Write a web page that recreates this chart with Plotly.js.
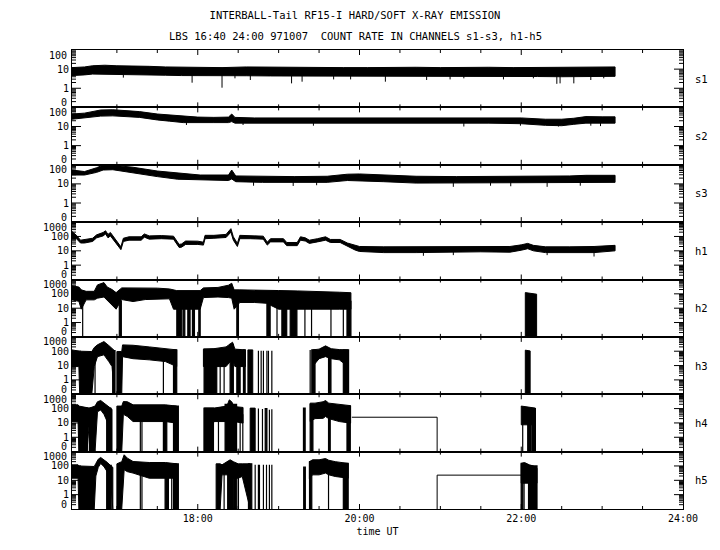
<!DOCTYPE html>
<html><head><meta charset="utf-8">
<script src="https://cdn.plot.ly/plotly-3.0.1.min.js"></script>
<style>html,body{margin:0;padding:0;background:#fff}</style>
</head><body>
<div id="chart" style="width:720px;height:550px"></div>
<script>
// ---------- data (time in decimal hours UT, values = count rate) ----------
const channels = ['s1','s2','s3','h1','h2','h3','h4','h5'];
const topLabels = ['100','100','100','1000','1000','1000','1000','1000'];
const xTickVals = [18, 20, 22, 24];
const xTickText = ['18:00','20:00','22:00','24:00'];
const xMinorStep = 0.5;   // half-hour ticks

// s1 envelope
const s1_t  = [16.445,16.6,16.7,16.85,17.0,17.2,17.4,17.6,17.8,18.0,18.3,18.6,18.9,19.2,19.5,19.8,20.1,20.4,20.7,21.0,21.3,21.6,21.9,22.2,22.5,22.8,23.0,23.16];
const s1_hi = [12,13,15,16,15,15,14,13,12.5,12,12,13,12.5,12,12.5,12,12,12.5,12.5,12,12.5,12.5,12,12,12,12,12.5,13];
const s1_lo = [4.6,5,5.5,5.5,5.4,5.2,5,4.8,4.6,4.5,4.4,4.5,4.4,4.3,4.4,4.3,4.3,4.3,4.3,4.2,4.2,4.2,4.1,4.1,4.0,4.0,4.1,4.2];
const s1_spkT = [17.08,17.93,18.30,18.46,18.65,19.16,19.29,19.68,19.89,20.32,20.83,21.12,21.29,21.78,22.15,22.44,22.48,22.65,22.86,23.02];
const s1_spkV = [3.6,1.95,1.07,3.3,2.7,1.8,2.2,2.9,2.9,2.2,2.7,2.9,3.3,2.9,3.3,1.7,1.8,1.8,2.7,3.3];
const s1_base = 6;

// s2 envelope
const s2_t  = [16.445,16.6,16.8,16.95,17.1,17.28,17.5,17.65,17.82,18.0,18.2,18.38,18.42,18.46,18.7,19.0,19.3,19.6,20.0,20.4,20.8,21.2,21.6,22.0,22.3,22.5,22.65,22.8,23.0,23.16];
const s2_hi = [45,50,73,75,68,60,45,40,33,31,30,31,45,30,28,28,28,28,29,30,30,30,29,28,24,24,27,33,32,32];
const s2_lo = [24,27,35,36,33,30,22,19,16,16,16,16,18,15,15,14.5,15,14.5,15,15,15,15,15,14,11.5,11,13,15,15,15];
const s2_spkT = [17.86,18.56,19.43,21.29,21.99,22.46,22.86,22.98];
const s2_spkV = [12,12,11,10,11,10,11,10.5];
const s2_base = 20;

// s3 envelope
const s3_t  = [16.445,16.6,16.75,16.83,16.95,17.2,17.5,17.75,18.03,18.38,18.42,18.47,18.8,19.2,19.6,19.85,20.0,20.3,20.7,21.2,21.7,22.2,22.6,22.8,23.16];
const s3_hi = [53,44,70,97,95,74,47,36,29,29,53,26,25,24,25,32,33,30,25,24,24,24,26,28,28];
const s3_lo = [29,29,40,53,55,39,24,17.5,16,15,18,13,12,11.6,12,15,15,13,11,11,11,11,11.5,12,12];
const s3_spkT = [18.69,19.18,19.47,21.16,21.62,21.87,22.32,22.73];
const s3_spkV = [8,7.8,8.5,7,8,7.5,7,8];
const s3_base = 15;

// h1 envelope
const h1_t  = [16.445,16.50,16.55,16.6,16.7,16.75,16.83,16.86,16.89,16.92,16.96,17.0,17.02,17.05,17.08,17.15,17.3,17.34,17.4,17.55,17.7,17.73,17.77,17.8,17.85,18.0,18.07,18.09,18.2,18.35,18.41,18.44,18.49,18.52,18.65,18.81,18.86,18.9,19.06,19.1,19.23,19.27,19.33,19.38,19.48,19.58,19.64,19.76,19.85,19.95,20.0,20.3,20.7,21.0,21.25,21.5,21.86,22.0,22.08,22.15,22.3,22.6,22.9,23.16];
const h1_hi = [220,120,55,60,75,130,190,250,140,190,95,55,33,19,75,95,95,150,110,115,105,55,28,30,48,47,40,120,120,140,350,95,33,120,115,105,40,70,70,38,38,95,80,55,70,95,62,62,35,24,20,19,19,19,20,21,20,26,33,24,19,19,20,24];
const h1_lo = [75,70,35,35,45,80,110,150,80,110,55,33,20,12,45,55,55,90,65,70,65,33,17,18,28,28,25,70,75,85,200,55,20,70,70,65,25,42,42,23,23,55,48,33,42,55,38,38,20,11,9,7.5,7.5,7.5,8,8.5,8,11,14,10,7.5,7.5,7.5,10];
const h1_spkT = [20.79,21.16,22.32,22.9];
const h1_spkV = [4.5,5,5,4];
const h1_base = 10;

// h2 envelope (null = no counts) and drop-outs to zero
const h2_t  = [16.445,16.53,16.56,16.62,16.72,16.76,16.84,16.88,16.94,16.99,17.06,17.2,17.35,17.5,17.65,17.7,17.74,18.03,18.07,18.25,18.38,18.42,18.45,18.52,18.7,18.85,19.0,19.23,19.42,19.6,19.75,19.894,null,22.05,22.19];
const h2_hi = [360,300,190,150,150,420,610,300,200,122,260,260,260,250,220,200,168,168,260,280,400,550,190,190,190,180,170,160,150,150,130,120,null,122,95];
const h2_lo = [38,30,8.5,38,38,50,60,40,17,8.5,40,29,40,45,45,8.5,8.5,8.5,55,60,55,50,8.5,25,25,22,8.5,8.5,8.5,8.5,8.5,8.5,null,0,0];
const h2_d0 = [16.577,17.03,17.741,17.82,17.877,17.934,18.013,18.483,18.855,18.98,19.04,19.143,19.325,19.407,19.647,19.80,19.845];
const h2_d1 = [16.577,17.055,17.803,17.84,17.905,17.959,18.03,18.503,18.895,18.98,19.10,19.226,19.325,19.407,19.647,19.80,19.894];
const h2_dv = [30,30,30,30,30,30,30,30,30,30,30,30,30,30,30,30,30];

// h3
const h3_t  = [16.445,16.53,16.54,16.69,16.72,16.76,16.84,16.9,16.94,16.97,null,17.0,17.06,17.07,17.2,17.4,17.6,17.74,null,18.07,18.2,18.35,18.43,18.46,18.59,null,18.62,18.68,null,19.42,19.5,19.58,19.65,19.75,19.86,null,22.05,22.11];
const h3_hi = [124,110,100,95,180,280,470,250,150,110,null,95,95,277,260,200,150,124,null,139,150,200,425,140,124,null,124,124,null,124,140,236,150,130,124,null,118,105];
const h3_lo = [8.5,8.5,0,0,8.5,42,56,19,8.5,0,null,0,0,42,30,25,19,8.5,null,8.5,8.5,8.5,30,8.5,8.5,null,0,0,null,8.5,30,42,30,25,8.5,null,0,0];
const h3_d0 = [16.73,16.948,17.575,17.70,18.078,18.277,18.326,18.40,18.483,18.565,18.75,18.784,18.812,18.855,18.874,18.916,19.39,19.41,19.617,19.80];
const h3_d1 = [16.73,16.977,17.575,17.74,18.235,18.277,18.326,18.44,18.524,18.586,18.75,18.784,18.812,18.855,18.874,18.916,19.39,19.45,19.647,19.865];
const h3_dv = [150,110,40,124,139,40,40,300,124,124,110,110,110,110,110,110,124,124,60,124];

// h4
const h4_t  = [16.445,16.52,16.53,16.63,16.66,16.73,16.76,16.8,16.84,16.88,16.92,16.94,null,17.0,17.06,17.08,17.13,17.2,17.4,17.6,17.74,null,18.08,18.2,18.36,18.39,18.42,18.45,18.56,null,18.648,18.71,null,19.39,19.45,19.55,19.58,19.62,19.75,19.89,null,22.0,22.06,22.12,22.175];
const h4_hi = [183,183,150,108,108,150,300,365,240,160,108,90,null,150,150,310,300,183,183,183,150,null,108,108,150,407,300,139,120,null,108,108,null,240,240,300,365,240,200,160,null,150,139,120,108];
const h4_lo = [12.5,12.5,0,0,12.5,0,60,80,40,12.5,0,0,null,0,0,40,28,12.5,12.5,12.5,9.7,null,0,12.5,12.5,30,0,12.5,9.7,null,0,0,null,12.5,20,21,28,20,12.5,9.7,null,7.4,7.4,7.4,7.4];
const h4_d0 = [16.535,16.66,16.874,17.29,17.31,17.575,17.70,18.078,18.256,18.338,18.524,18.557,18.75,18.80,18.834,18.886,18.916,19.307,19.39,19.617,19.845,22.018,22.08,22.13];
const h4_d1 = [16.634,16.72,16.924,17.29,17.31,17.617,17.76,18.194,18.256,18.48,18.524,18.557,18.75,18.80,18.855,18.886,18.916,19.328,19.424,19.638,19.886,22.018,22.113,22.175];
const h4_dv = [108,108,108,40,40,40,150,108,40,200,40,40,100,95,100,82,90,108,200,60,150,20,100,100];
const h4_lt = [19.905,20.96,20.96];
const h4_lv = [25,25,0];

// h5
const h5_t  = [16.445,16.52,16.53,16.72,16.74,16.77,16.8,16.84,16.88,16.92,16.95,null,17.0,17.06,17.09,17.13,17.2,17.4,17.6,17.74,null,18.227,18.277,18.3,18.36,18.4,18.44,18.5,18.55,18.648,null,19.38,19.42,19.5,19.58,19.62,19.7,19.86,null,21.999,22.04,22.1,22.15,22.195];
const h5_hi = [120,120,100,92,150,300,390,270,180,110,80,null,141,200,600,350,205,174,174,141,null,141,141,120,180,270,200,141,141,141,null,200,270,270,330,250,200,150,null,150,174,120,100,70];
const h5_lo = [14,14,0,0,20,80,150,90,40,14,0,null,0,0,54,40,32,14,14,14,null,0,0,24,24,24,14,14,18.5,0,null,14,24,24,32,24,18.5,14,null,6.3,6.3,6.3,6.3,6.3];
const h5_d0 = [16.874,17.29,17.31,17.596,17.678,17.70,18.326,18.37,18.44,18.503,18.627,18.71,18.75,18.763,18.812,18.85,18.886,18.916,19.31,19.382,19.617,19.80,21.999,22.035,22.09];
const h5_d1 = [16.93,17.29,17.31,17.637,17.678,17.76,18.326,18.43,18.483,18.503,18.668,18.71,18.75,18.763,18.812,18.85,18.886,18.916,19.33,19.41,19.617,19.86,22.02,22.035,22.195];
const h5_dv = [110,40,40,40,40,141,40,200,141,40,141,120,120,120,120,120,120,120,83,200,60,150,150,20,100];
const h5_lt = [20.96,20.96,22.0];
const h5_lv = [0,23,23];

// ---------- drawing ----------
const FLOOR = 0.1;           // zero counts are drawn on the bottom ("0") line
const fl = v => Math.max(v, FLOOR);
const FONT = 'DejaVu Sans Mono, Liberation Mono, monospace';
const BLACK = '#000';
const X0 = 16.445, X1 = 24;

function axisIds(k){ return {xa: k===0?'x':'x'+(k+1), ya: k===0?'y':'y'+(k+1)}; }

function band(t, hi, lo, k){
  const xs=[], ys=[]; let seg=[];
  const flush=()=>{
    if(!seg.length) return;
    seg.forEach(i=>{xs.push(t[i]); ys.push(fl(hi[i]));});
    for(let j=seg.length-1;j>=0;j--){const i=seg[j]; xs.push(t[i]); ys.push(fl(lo[i]));}
    xs.push(t[seg[0]]); ys.push(fl(hi[seg[0]]));
    xs.push(null); ys.push(null); seg=[];
  };
  for(let i=0;i<t.length;i++){ if(t[i]===null) flush(); else seg.push(i); }
  flush();
  const a=axisIds(k);
  return {x:xs,y:ys,xaxis:a.xa,yaxis:a.ya,mode:'lines',fill:'toself',fillcolor:BLACK,
          line:{color:BLACK,width:1},hoverinfo:'skip',connectgaps:false};
}
function spikes(t, v, base, k){
  const xs=[], ys=[];
  t.forEach((ti,i)=>{xs.push(ti,ti,null); ys.push(fl(v[i]),base,null);});
  const a=axisIds(k);
  return {x:xs,y:ys,xaxis:a.xa,yaxis:a.ya,mode:'lines',line:{color:BLACK,width:1},hoverinfo:'skip'};
}
function drops(t0, t1, v, k){
  const xs=[], ys=[];
  t0.forEach((a,i)=>{const b=t1[i]; xs.push(a,a,b,b,a,null); ys.push(FLOOR,fl(v[i]),fl(v[i]),FLOOR,FLOOR,null);});
  const a=axisIds(k);
  return {x:xs,y:ys,xaxis:a.xa,yaxis:a.ya,mode:'lines',fill:'toself',fillcolor:BLACK,
          line:{color:BLACK,width:1.2},hoverinfo:'skip'};
}
function line(t, v, k){
  const a=axisIds(k);
  return {x:t,y:v.map(fl),xaxis:a.xa,yaxis:a.ya,mode:'lines',line:{color:BLACK,width:1},hoverinfo:'skip'};
}

const traces = [
  band(s1_t,s1_hi,s1_lo,0), spikes(s1_spkT,s1_spkV,s1_base,0),
  band(s2_t,s2_hi,s2_lo,1), spikes(s2_spkT,s2_spkV,s2_base,1),
  band(s3_t,s3_hi,s3_lo,2), spikes(s3_spkT,s3_spkV,s3_base,2),
  band(h1_t,h1_hi,h1_lo,3), spikes(h1_spkT,h1_spkV,h1_base,3),
  band(h2_t,h2_hi,h2_lo,4), drops(h2_d0,h2_d1,h2_dv,4),
  band(h3_t,h3_hi,h3_lo,5), drops(h3_d0,h3_d1,h3_dv,5),
  band(h4_t,h4_hi,h4_lo,6), drops(h4_d0,h4_d1,h4_dv,6), line(h4_lt,h4_lv,6),
  band(h5_t,h5_hi,h5_lo,7), drops(h5_d0,h5_d1,h5_dv,7), line(h5_lt,h5_lv,7)
];

const N = 8;
const ML=72, MR=37, MT=50, MB=41, W=720, H=550;
const PW = W-ML-MR, PH = H-MT-MB;
const layout = {
  width:W, height:H, margin:{l:ML,r:MR,t:MT,b:MB},
  paper_bgcolor:'#fff', plot_bgcolor:'rgba(0,0,0,0)', showlegend:false, hovermode:false,
  font:{family:FONT,size:10,color:BLACK},
  title:{text:'INTERBALL-Tail RF15-I HARD/SOFT X-RAY EMISSION', font:{family:FONT,size:10.5,color:BLACK},
         x:355/W, xanchor:'center', xref:'container', y:1-15/H, yanchor:'middle', yref:'container'},
  annotations:[], shapes:[]
};
layout.annotations.push({text:'LBS 16:40 24:00 971007  COUNT RATE IN CHANNELS s1-s3, h1-h5',
  xref:'paper', yref:'paper', x:(355-ML)/PW, y:(H-MB-36)/PH, xanchor:'center', yanchor:'middle',
  showarrow:false, font:{family:FONT,size:10.5,color:BLACK}});

// tick-mark helpers (short line shapes on both sides of every panel box)
const tickLine = (s) => Object.assign({type:'line', layer:'above', line:{color:BLACK,width:1}}, s);
function yTick(ya, val, lenPx){
  const dx = lenPx/PW;   // shape y on a log axis is given as a data value
  layout.shapes.push(tickLine({xref:'paper', yref:ya, x0:0, x1:dx, y0:val, y1:val}));
  layout.shapes.push(tickLine({xref:'paper', yref:ya, x0:1-dx, x1:1, y0:val, y1:val}));
}
function xTick(xa, t, d0, d1, lenPx){
  const dy = lenPx/PH;
  layout.shapes.push(tickLine({xref:xa, yref:'paper', x0:t, x1:t, y0:d0, y1:d0+dy}));
  layout.shapes.push(tickLine({xref:xa, yref:'paper', x0:t, x1:t, y0:d1-dy, y1:d1}));
}

for(let k=0;k<N;k++){
  const a = axisIds(k);
  const xKey = k===0?'xaxis':'xaxis'+(k+1);
  const yKey = k===0?'yaxis':'yaxis'+(k+1);
  const isS = k<3;
  const maxExp = isS?2:3;
  const d0 = 1-(k+1)/N, d1 = 1-k/N;
  layout[xKey] = {
    domain:[0,1], anchor:a.ya, range:[X0,X1], type:'linear',
    tickvals:xTickVals, ticktext:xTickText, showticklabels:k===N-1, ticks:'',
    showline:true, linecolor:BLACK, linewidth:1, mirror:true, showgrid:false, zeroline:false,
    tickfont:{family:FONT,size:10,color:BLACK}
  };
  if(k===N-1) layout[xKey].title={text:'time UT', font:{family:FONT,size:10,color:BLACK}, standoff:4};
  layout[yKey] = {
    domain:[d0,d1], anchor:a.xa, type:'log', range:[-1, maxExp],
    tickvals: isS?[1,10]:[1,10,100], ticktext: isS?['1','10']:['1','10','100'], ticks:'',
    showline:true, linecolor:BLACK, linewidth:1, mirror:true, showgrid:false, zeroline:false,
    tickfont:{family:FONT,size:10,color:BLACK}
  };
  // y ticks: decades long, digits 2..9 short
  for(let e=-1;e<maxExp;e++){
    if(e>-1) yTick(a.ya, Math.pow(10,e), 9);
    for(let d=2;d<=9;d++) yTick(a.ya, d*Math.pow(10,e), 4);
  }
  // x ticks: every half hour short, every two hours longer
  for(let t=17; t<X1; t+=xMinorStep){
    xTick(a.xa, t, d0, d1, xTickVals.includes(t)?5:3);
  }
  // top label, zero label, channel name
  layout.annotations.push({text:topLabels[k], xref:'paper', yref:'paper', x:-3/PW, y:d1,
    xanchor:'right', yanchor:'middle', yshift:-5, showarrow:false, font:{family:FONT,size:10,color:BLACK}});
  layout.annotations.push({text:'0', xref:'paper', yref:'paper', x:-3/PW, y:d0,
    xanchor:'right', yanchor:'middle', yshift:5, showarrow:false, font:{family:FONT,size:10,color:BLACK}});
  layout.annotations.push({text:channels[k], xref:'paper', yref:'paper', x:(693-ML)/PW, y:(d0+d1)/2,
    xanchor:'left', yanchor:'middle', showarrow:false, font:{family:FONT,size:10.5,color:BLACK}});
}

Plotly.newPlot('chart', traces, layout, {staticPlot:true, displayModeBar:false});
</script>
</body></html>
